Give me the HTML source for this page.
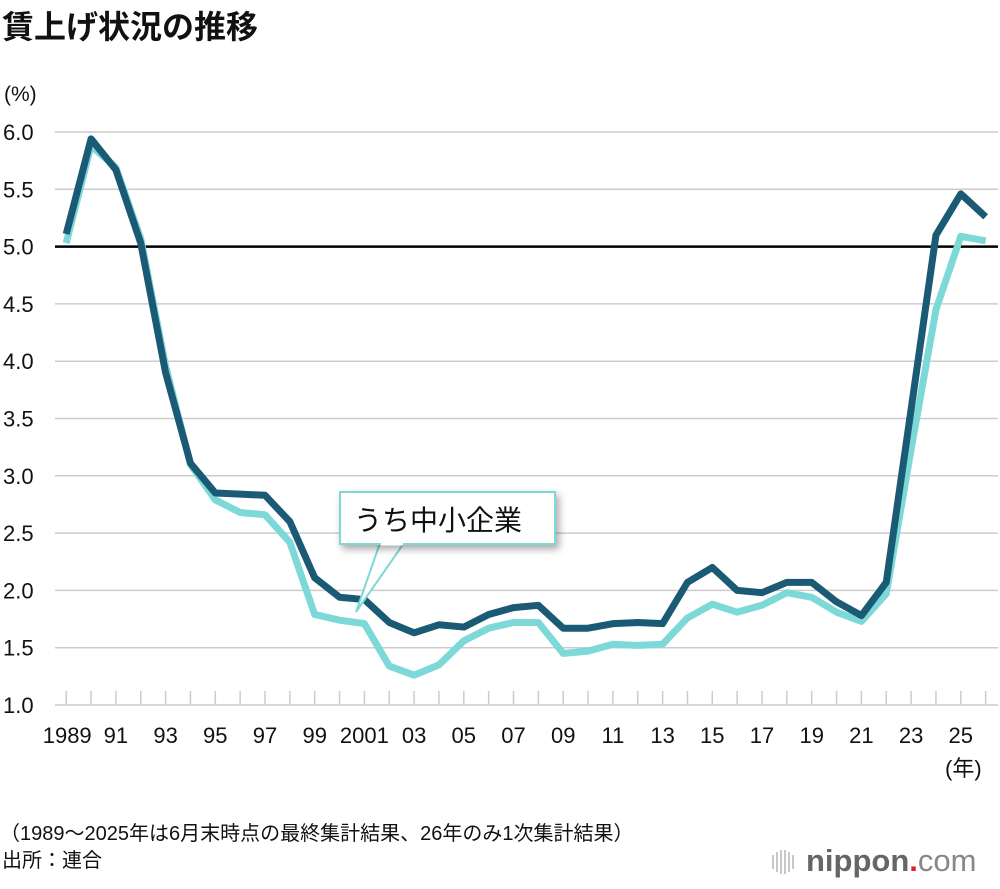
<!DOCTYPE html>
<html><head><meta charset="utf-8"><style>
body{margin:0;background:#fff;width:1000px;height:884px;overflow:hidden;font-family:"Liberation Sans","Noto Sans CJK JP",sans-serif;}
svg text{font-family:"Liberation Sans","Noto Sans CJK JP",sans-serif;}
</style></head><body>
<svg id="c" width="1000" height="884">
<text x="2" y="38" font-size="32" font-weight="bold" fill="#111">賃上げ状況の推移</text>
<text x="4" y="101" font-size="21" fill="#111">(%)</text>
<g id="grid"></g><g id="lines"></g>
<g>
<polygon points="380,543 356,612 404,543" fill="#fff" stroke="#7dd9d8" stroke-width="2"/>
<rect x="340" y="492" width="215" height="52" fill="#fff" stroke="#7dd9d8" stroke-width="2" style="filter:drop-shadow(3px 4px 4px rgba(0,0,0,0.35))"/>
<line x1="381" y1="544" x2="403" y2="544" stroke="#fff" stroke-width="3"/>
<text x="354" y="530" font-size="28" fill="#111">うち中小企業</text>
</g>
<text x="945" y="776" font-size="22" fill="#111">(年)</text>
<text x="0" y="840" font-size="20" fill="#111">（1989〜2025年は6月末時点の最終集計結果、26年のみ1次集計結果）</text>
<text x="2" y="867" font-size="20" fill="#111">出所：連合</text>
<g>
<g stroke="#bbb" stroke-width="1.6"><line x1="773" y1="855" x2="773" y2="869"/><line x1="777" y1="852" x2="777" y2="872"/><line x1="781" y1="850" x2="781" y2="874"/><line x1="785" y1="850" x2="785" y2="874"/><line x1="789" y1="852" x2="789" y2="872"/><line x1="793" y1="855" x2="793" y2="869"/></g>
<text x="806" y="871" font-size="31" font-weight="bold" fill="#666">nippon<tspan fill="#e02020">.</tspan><tspan font-weight="normal" fill="#888">com</tspan></text>
</g>
</svg>
<script>
const years=[];for(let y=1989;y<=2026;y++)years.push(y);
const allCompanies=[5.11,5.94,5.67,5.03,3.90,3.11,2.85,2.84,2.83,2.60,2.11,1.94,1.92,1.72,1.63,1.70,1.68,1.79,1.85,1.87,1.67,1.67,1.71,1.72,1.71,2.07,2.20,2.00,1.98,2.07,2.07,1.90,1.78,2.07,3.58,5.10,5.46,5.26];
const smallFirms=[5.03,5.88,5.69,5.07,3.96,3.10,2.79,2.68,2.66,2.42,1.79,1.74,1.71,1.34,1.26,1.35,1.56,1.67,1.72,1.72,1.45,1.47,1.53,1.52,1.53,1.76,1.88,1.81,1.87,1.98,1.94,1.81,1.73,1.97,3.23,4.45,5.09,5.05];
const yTicks=[1.0,1.5,2.0,2.5,3.0,3.5,4.0,4.5,5.0,5.5,6.0];
const xLabels=["1989","91","93","95","97","99","2001","03","05","07","09","11","13","15","17","19","21","23","25"];
const NS="http://www.w3.org/2000/svg";
const X=y=>66.2+(y-1989)*24.85;
const Y=v=>705-(v-1)*114.6;
function mk(t,a,p){const e=document.createElementNS(NS,t);for(const k in a)e.setAttribute(k,a[k]);p.appendChild(e);return e;}
const g=document.getElementById('grid');
yTicks.forEach(v=>{
 const l=mk('line',{x1:55,x2:998,y1:Y(v),y2:Y(v),stroke:v===5?'#000':'#ccc','stroke-width':v===5?2.5:1.5},g);
 
 
 const t=mk('text',{x:3,y:Y(v)+8,'font-size':22,fill:'#111'},g);t.textContent=v.toFixed(1);
 
 
});
years.forEach(y=>{
 const l=mk('line',{x1:X(y),x2:X(y),y1:691,y2:705,stroke:'#ccc','stroke-width':1.5},g);
 
 
});
xLabels.forEach((s,i)=>{
 const y=1989+(i===0?0:2*i);
 const t=mk('text',{x:i===0?X(1989)+1:X(y),y:743,'font-size':22,fill:'#111','text-anchor':'middle'},g);t.textContent=s;
 
 
});
const L=document.getElementById('lines');
function line(d,c,n){
 const p=mk('polyline',{points:d.map((v,i)=>X(years[i])+','+Y(v)).join(' '),fill:'none',stroke:c,'stroke-width':7,'stroke-linejoin':'round'},L);
 
 
}
line(smallFirms,'#7dd9d8','small-firms-line');
line(allCompanies,'#1a5a74','all-companies-line');
</script>
</body></html>
